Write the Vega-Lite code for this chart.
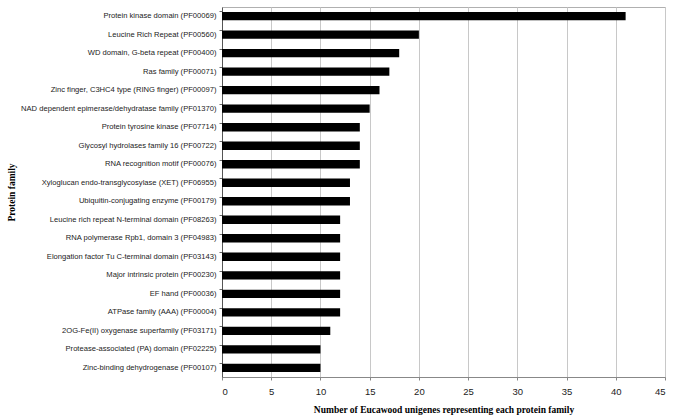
{
  "$schema": "https://vega.github.io/schema/vega-lite/v6.json",
  "width": 443,
  "height": 370,
  "padding": {"left": 6, "top": 7, "right": 11, "bottom": 5},
  "background": "white",
  "config": {
    "view": {"stroke": "#b0b0b0", "strokeWidth": 1},
    "font": "Liberation Sans"
  },
  "data": {
    "values": [
      {"family": "Protein kinase domain (PF00069)", "count": 41},
      {"family": "Leucine Rich Repeat (PF00560)", "count": 20},
      {"family": "WD domain, G-beta repeat (PF00400)", "count": 18},
      {"family": "Ras family (PF00071)", "count": 17},
      {"family": "Zinc finger, C3HC4 type (RING finger) (PF00097)", "count": 16},
      {"family": "NAD dependent epimerase/dehydratase family (PF01370)", "count": 15},
      {"family": "Protein tyrosine kinase (PF07714)", "count": 14},
      {"family": "Glycosyl hydrolases family 16 (PF00722)", "count": 14},
      {"family": "RNA recognition motif (PF00076)", "count": 14},
      {"family": "Xyloglucan endo-transglycosylase (XET) (PF06955)", "count": 13},
      {"family": "Ubiquitin-conjugating enzyme (PF00179)", "count": 13},
      {"family": "Leucine rich repeat N-terminal domain (PF08263)", "count": 12},
      {"family": "RNA polymerase Rpb1, domain 3 (PF04983)", "count": 12},
      {"family": "Elongation factor Tu C-terminal domain (PF03143)", "count": 12},
      {"family": "Major intrinsic protein (PF00230)", "count": 12},
      {"family": "EF hand (PF00036)", "count": 12},
      {"family": "ATPase family (AAA) (PF00004)", "count": 12},
      {"family": "2OG-Fe(II) oxygenase superfamily (PF03171)", "count": 11},
      {"family": "Protease-associated (PA) domain (PF02225)", "count": 10},
      {"family": "Zinc-binding dehydrogenase (PF00107)", "count": 10}
    ]
  },
  "mark": {"type": "bar", "color": "black"},
  "encoding": {
    "y": {
      "field": "family",
      "type": "nominal",
      "sort": null,
      "scale": {"paddingInner": 0.55, "paddingOuter": 0.27},
      "axis": {
        "title": "Protein family",
        "titleFont": "Liberation Serif",
        "titleFontWeight": "bold",
        "titleFontSize": 9.5,
        "titleColor": "black",
        "titlePadding": 6,
        "labelFontSize": 7.6,
        "labelLimit": 0,
        "labelColor": "#222",
        "labelPadding": 3,
        "domainColor": "#555",
        "tickColor": "#666",
        "tickSize": 3,
        "bandPosition": 0,
        "grid": false
      }
    },
    "x": {
      "field": "count",
      "type": "quantitative",
      "scale": {"domain": [0, 45]},
      "axis": {
        "title": "Number of Eucawood unigenes representing each protein family",
        "titleFont": "Liberation Serif",
        "titleFontWeight": "bold",
        "titleFontSize": 9.5,
        "titleColor": "black",
        "titlePadding": 9,
        "values": [0, 5, 10, 15, 20, 25, 30, 35, 40, 45],
        "labelFontSize": 9.5,
        "labelColor": "#222",
        "labelPadding": 6,
        "domainColor": "#888",
        "tickColor": "#888",
        "tickSize": 3,
        "gridColor": "#c8c8c8",
        "grid": true
      }
    }
  }
}
